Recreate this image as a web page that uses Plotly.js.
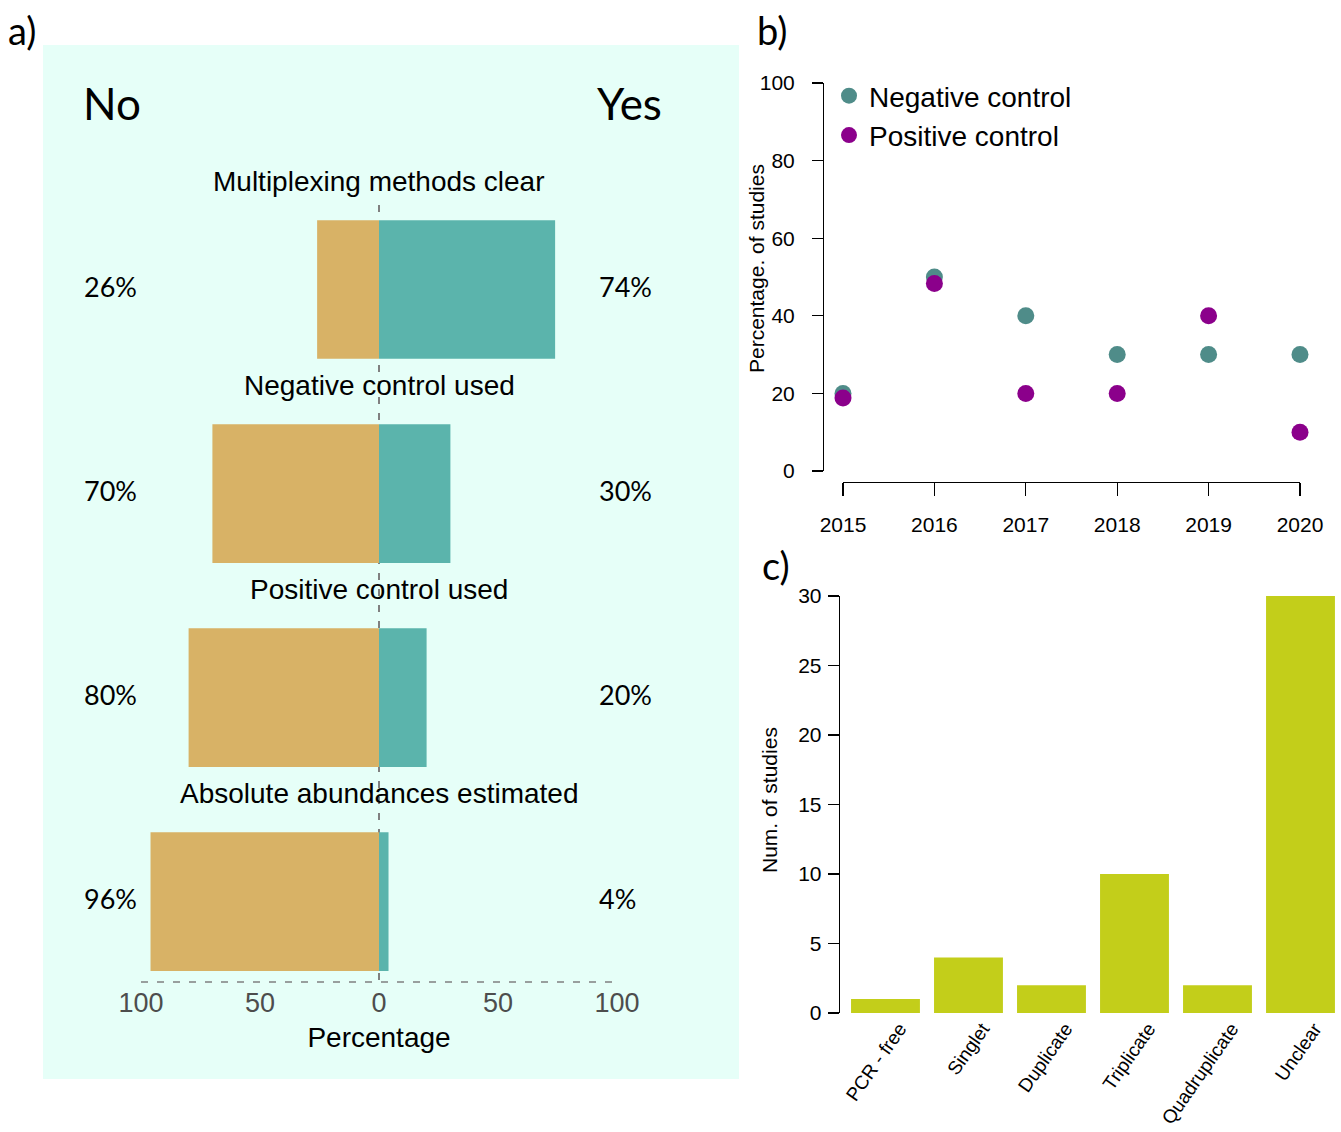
<!DOCTYPE html>
<html>
<head>
<meta charset="utf-8">
<script src="https://cdn.plot.ly/plotly-3.0.1.min.js"></script>
<style>html,body{margin:0;padding:0;background:#fff;}#chart{width:1341px;height:1132px;}</style>
</head>
<body>
<div id="chart"></div>
<script>
// ---- Panel a data ----
const categories = ['Multiplexing methods clear', 'Negative control used', 'Positive control used', 'Absolute abundances estimated'];
const noPct = [26, 70, 80, 96];
const yesPct = [74, 30, 20, 4];
const pctTickVals = [-100, -50, 0, 50, 100];
const pctTickText = ['100', '50', '0', '50', '100'];

// ---- Panel b data ----
const years = [2015, 2016, 2017, 2018, 2019, 2020];
const negativeControl = [20, 50, 40, 30, 30, 30];
const positiveControl = [18.8, 48.3, 20, 20, 40, 10];

// ---- Panel c data ----
const replicationTypes = ['PCR - free', 'Singlet', 'Duplicate', 'Triplicate', 'Quadruplicate', 'Unclear'];
const numStudies = [1, 4, 2, 10, 2, 30];

const W = 1341, H = 1132;
const px = v => v / W;
const py = v => 1 - v / H;

const SANS = 'Liberation Sans, Arial, Helvetica, sans-serif';
const ROUND = 'Lato, Noto Sans, sans-serif';

const traces = [
  {
    type: 'bar', orientation: 'h', name: 'No',
    y: categories, x: noPct.map(v => -v),
    marker: {color: '#D8B266'}, width: 0.68,
    xaxis: 'x', yaxis: 'y', showlegend: false, hoverinfo: 'skip'
  },
  {
    type: 'bar', orientation: 'h', name: 'Yes',
    y: categories, x: yesPct,
    marker: {color: '#5BB4AC'}, width: 0.68,
    xaxis: 'x', yaxis: 'y', showlegend: false, hoverinfo: 'skip'
  },
  {
    type: 'scatter', mode: 'markers', name: 'Negative control',
    x: years, y: negativeControl,
    marker: {color: '#4F8C89', size: 17},
    xaxis: 'x2', yaxis: 'y2', cliponaxis: false
  },
  {
    type: 'scatter', mode: 'markers', name: 'Positive control',
    x: years, y: positiveControl,
    marker: {color: '#8B008B', size: 17},
    xaxis: 'x2', yaxis: 'y2', cliponaxis: false
  },
  {
    type: 'bar', name: 'Num. of studies',
    x: replicationTypes, y: numStudies,
    marker: {color: '#C3CE1A'}, width: 0.83,
    xaxis: 'x3', yaxis: 'y3', showlegend: false
  }
];

const annotations = [];
// panel labels
annotations.push({text: 'a)', xref: 'paper', yref: 'paper', x: px(6), y: py(30), xanchor: 'left', yanchor: 'middle', showarrow: false, font: {family: ROUND, size: 38, color: '#000'}});
annotations.push({text: 'b)', xref: 'paper', yref: 'paper', x: px(755), y: py(30), xanchor: 'left', yanchor: 'middle', showarrow: false, font: {family: ROUND, size: 38, color: '#000'}});
annotations.push({text: 'c)', xref: 'paper', yref: 'paper', x: px(760), y: py(565), xanchor: 'left', yanchor: 'middle', showarrow: false, font: {family: ROUND, size: 38, color: '#000'}});
// No / Yes headers
annotations.push({text: 'No', xref: 'paper', yref: 'paper', x: px(81), y: py(103), xanchor: 'left', yanchor: 'middle', showarrow: false, font: {family: ROUND, size: 44, color: '#000'}});
annotations.push({text: 'Yes', xref: 'paper', yref: 'paper', x: px(595), y: py(103), xanchor: 'left', yanchor: 'middle', showarrow: false, font: {family: ROUND, size: 44, color: '#000'}});
// category titles and percentages
categories.forEach((c, i) => {
  annotations.push({text: c, xref: 'x', yref: 'y', x: 0, y: c, yshift: 108, xanchor: 'center', yanchor: 'middle', showarrow: false, font: {family: SANS, size: 28, color: '#000'}});
  annotations.push({text: noPct[i] + '%', xref: 'paper', yref: 'y', x: px(82), y: c, yshift: 3, xanchor: 'left', yanchor: 'middle', showarrow: false, font: {family: ROUND, size: 27, color: '#000'}});
  annotations.push({text: yesPct[i] + '%', xref: 'paper', yref: 'y', x: px(597), y: c, yshift: 3, xanchor: 'left', yanchor: 'middle', showarrow: false, font: {family: ROUND, size: 27, color: '#000'}});
});
// axis titles of panels b and c (R-style placement)
annotations.push({text: 'Percentage. of studies', xref: 'paper', yref: 'paper', x: px(756), y: py(269), textangle: -90, xanchor: 'center', yanchor: 'middle', showarrow: false, font: {family: SANS, size: 21, color: '#000'}});
annotations.push({text: 'Num. of studies', xref: 'paper', yref: 'paper', x: px(769), y: py(800), textangle: -90, xanchor: 'center', yanchor: 'middle', showarrow: false, font: {family: SANS, size: 21, color: '#000'}});

const shapes = [
  // panel a background
  {type: 'rect', xref: 'paper', yref: 'paper', x0: px(43), x1: px(739), y0: py(1079), y1: py(45), fillcolor: '#E6FFF8', line: {width: 0}, layer: 'below'},
  // vertical dashed zero line
  {type: 'line', xref: 'x', yref: 'paper', x0: 0, x1: 0, y0: py(980), y1: py(205), line: {color: '#808080', width: 2, dash: '7px,9px'}, layer: 'below'},
  // horizontal dashed axis line
  {type: 'line', xref: 'x', yref: 'paper', x0: -100, x1: 100, y0: py(982), y1: py(982), line: {color: '#808080', width: 1.5, dash: '7px,9px'}, layer: 'below'}
];

const layout = {
  width: W, height: H,
  margin: {l: 0, r: 0, t: 0, b: 0},
  paper_bgcolor: '#ffffff',
  plot_bgcolor: 'rgba(0,0,0,0)',
  font: {family: SANS, color: '#000'},
  barmode: 'relative',
  showlegend: true,
  legend: {
    x: px(829), y: py(71), xanchor: 'left', yanchor: 'top',
    bgcolor: 'rgba(0,0,0,0)', borderwidth: 0,
    font: {family: SANS, size: 28, color: '#000'},
    tracegroupgap: 0
  },
  // panel a
  xaxis: {
    domain: [px(141), px(617)], range: [-100, 100],
    anchor: 'free', position: py(982),
    tickvals: pctTickVals, ticktext: pctTickText,
    ticks: '', showline: false, showgrid: false, zeroline: false,
    tickfont: {family: SANS, size: 27, color: '#4D4D4D'},
    ticklabelstandoff: 2,
    title: {text: 'Percentage', font: {family: SANS, size: 28, color: '#000'}, standoff: 10},
    automargin: false, fixedrange: true
  },
  yaxis: {
    domain: [py(975), py(200)], type: 'category',
    range: [3.36, -0.4387], visible: false, showgrid: false, zeroline: false,
    anchor: 'x', automargin: false, fixedrange: true
  },
  // panel b
  xaxis2: {
    domain: [px(843), px(1300)], range: [2015, 2020],
    anchor: 'free', position: py(482),
    dtick: 1, tick0: 2015,
    showline: true, linecolor: '#000', linewidth: 1.3,
    ticks: 'outside', ticklen: 13, tickcolor: '#000', tickwidth: 1.3,
    showgrid: false, zeroline: false,
    tickfont: {family: SANS, size: 21, color: '#000'},
    ticklabelstandoff: 10,
    automargin: false, fixedrange: true
  },
  yaxis2: {
    domain: [py(471), py(83)], range: [0, 100],
    anchor: 'free', position: px(823),
    dtick: 20, tick0: 0,
    showline: true, linecolor: '#000', linewidth: 1.3,
    ticks: 'outside', ticklen: 11, tickcolor: '#000', tickwidth: 1.3,
    showgrid: false, zeroline: false,
    tickfont: {family: SANS, size: 21, color: '#000'},
    ticklabelstandoff: 13,
    automargin: false, fixedrange: true
  },
  // panel c
  xaxis3: {
    domain: [px(840), 1], range: [-0.548, 5.488], type: 'category',
    anchor: 'y3',
    showline: false, ticks: '', showgrid: false, zeroline: false,
    tickangle: -55,
    tickfont: {family: SANS, size: 19, color: '#000'},
    ticklabelshift: 14, ticklabelstandoff: 0,
    automargin: false, fixedrange: true
  },
  yaxis3: {
    domain: [py(1013), py(596)], range: [0, 30],
    anchor: 'x3',
    dtick: 5, tick0: 0,
    showline: true, linecolor: '#000', linewidth: 1.3,
    ticks: 'outside', ticklen: 11, tickcolor: '#000', tickwidth: 1.3,
    showgrid: false, zeroline: false,
    tickfont: {family: SANS, size: 21, color: '#000'},
    ticklabelstandoff: 2,
    automargin: false, fixedrange: true
  },
  annotations: annotations,
  shapes: shapes
};

Plotly.newPlot('chart', traces, layout, {displayModeBar: false, staticPlot: true});
</script>
</body>
</html>
